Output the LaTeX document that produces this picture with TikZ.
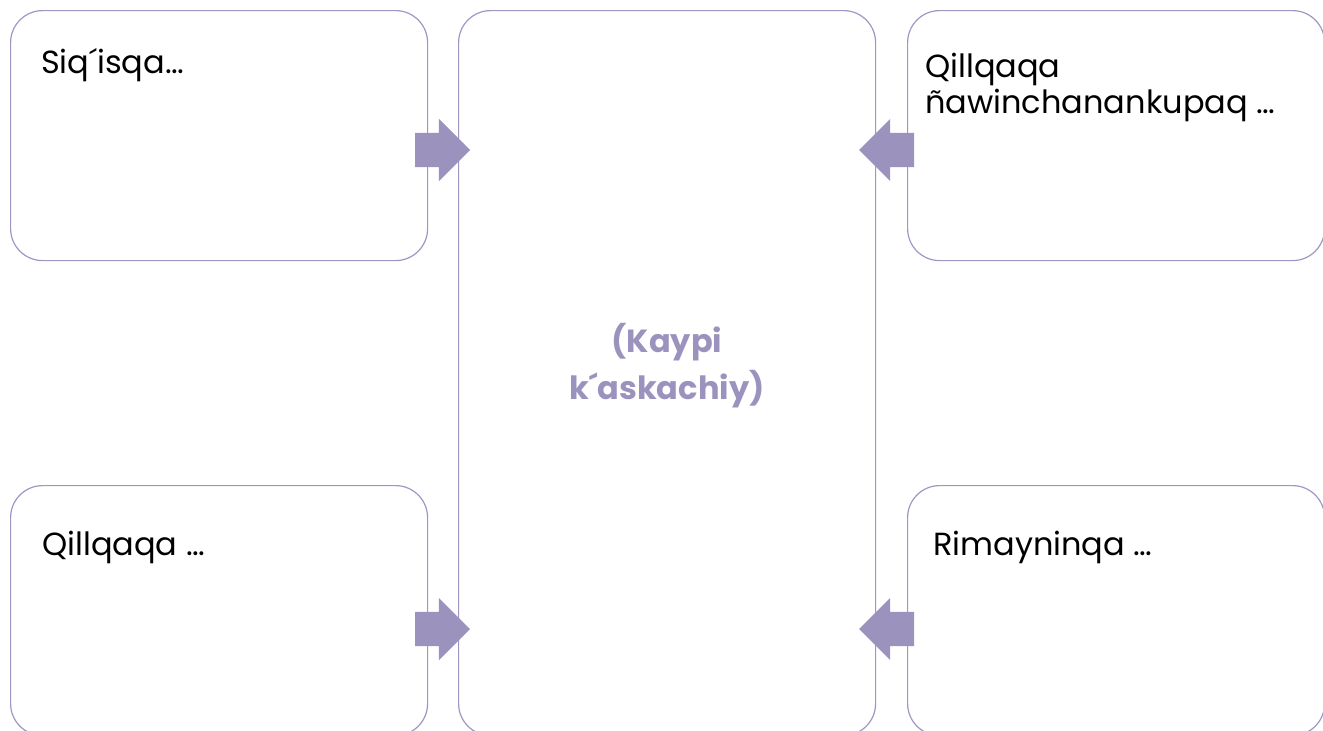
\documentclass[tikz,border=0pt]{standalone}
\usepackage{fontspec}
\setmainfont{Poppins}
\usepackage{tikz}
\usetikzlibrary{shapes,arrows,positioning}
\definecolor{dflavender}{RGB}{155,147,190}
\definecolor{dfborder}{RGB}{158,151,196}
\tikzstyle{panel} = [rectangle, rounded corners=32pt, minimum width=417pt, minimum height=250pt, draw=dfborder, line width=1.2pt, anchor=north west, inner sep=0pt]
\tikzstyle{tall} = [panel, minimum height=725pt]
\tikzstyle{prompt} = [font=\fontsize{32}{36}\selectfont, align=left, anchor=base west, inner sep=0pt]
\tikzstyle{blockarrow} = [single arrow, fill=dflavender, draw=none, minimum height=55pt, inner xsep=0pt, inner ysep=17pt, single arrow head extend=14pt, outer sep=0pt, anchor=tip]

\begin{document}
\begin{tikzpicture}[x=1pt, y=-1pt]
\useasboundingbox (0,0) rectangle (1323,731);
\clip (0,0) rectangle (1323,731);
% Panels
\node[panel] (siqisqa) at (10,10) {};
\node[tall] (kaypi) at (458,10) {};
\node[panel] (nawin) at (907,10) {};
\node[panel] (qillqa) at (10,485) {};
\node[panel] (rimay) at (907,485) {};

% Texts
\node[prompt] (tsiq) at (41,73) {Siq´isqa…};
\node[prompt] (tnaw) at (925,113) {Qillqaqa\\ñawinchanankupaq …};
\node[prompt] (tqil) at (42,555) {Qillqaqa …};
\node[prompt] (trim) at (933,555) {Rimayninqa …};
\node[font=\bfseries\fontsize{32}{47}\selectfont, text=dflavender, align=center] (tkay) at (667,366) {(Kaypi\\k´askachiy)};

% Arrows
\node[blockarrow] (a1) at (470,150) {};
\node[blockarrow] (a2) at (470,629) {};
\node[blockarrow, shape border rotate=180] (a3) at (859,150) {};
\node[blockarrow, shape border rotate=180] (a4) at (859,629) {};
\end{tikzpicture}
\end{document}
